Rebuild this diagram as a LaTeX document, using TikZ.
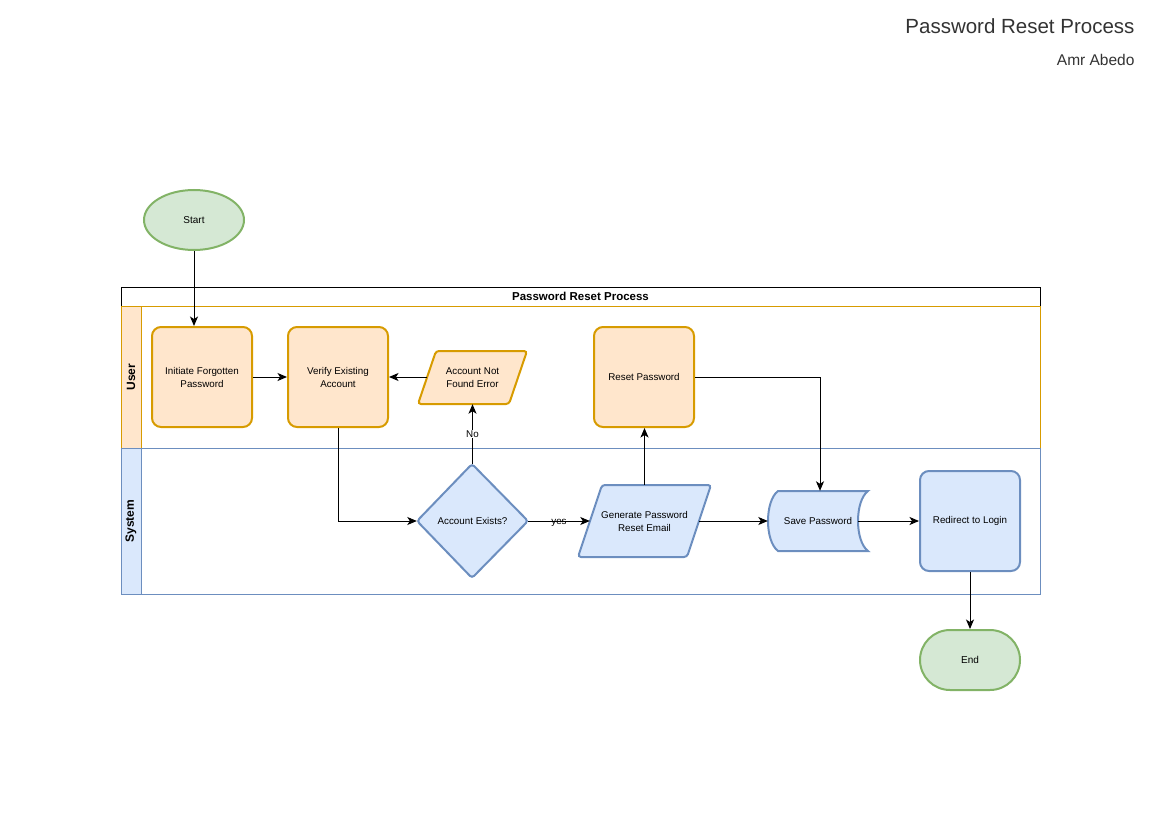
\documentclass[tikz,border=0pt]{standalone}
\usepackage{fontspec}
\setmainfont{Liberation Sans}
\usetikzlibrary{arrows.meta,shapes.geometric}
\definecolor{userfill}{HTML}{FFE6CC}
\definecolor{userline}{HTML}{D79B00}
\definecolor{sysfill}{HTML}{DAE8FC}
\definecolor{sysline}{HTML}{6C8EBF}
\definecolor{termfill}{HTML}{D5E8D4}
\definecolor{termline}{HTML}{82B366}
\definecolor{ink}{HTML}{333333}
\tikzset{
  userbox/.style={draw=userline, fill=userfill, line width=2pt, rounded corners=9pt,
    minimum width=100pt, minimum height=100pt, align=center, font=\fontsize{9.8}{13}\selectfont, inner sep=0pt},
  sysbox/.style={draw=sysline, fill=sysfill, line width=2pt, rounded corners=9pt,
    minimum width=100pt, minimum height=100pt, align=center, font=\fontsize{9.8}{13}\selectfont, inner sep=0pt},
  usershape/.style={draw=userline, fill=userfill, line width=2pt, rounded corners=3pt},
  sysshape/.style={draw=sysline, fill=sysfill, line width=2pt, rounded corners=3pt},
  ghost/.style={inner sep=0pt, align=center, font=\fontsize{9.8}{13}\selectfont},
  lanelabel/.style={rotate=90, font=\bfseries\fontsize{12}{14}\selectfont},
  flow/.style={-{Stealth[length=9.5pt,width=8pt,inset=2.5pt]}, line width=1pt},
  edgelabel/.style={inner sep=1pt, font=\fontsize{9.8}{11}\selectfont}
}
\begin{document}
\begin{tikzpicture}[x=1pt, y=-1pt]
\useasboundingbox (0,0) rectangle (1150,813);

% heading
\node[anchor=east, text=ink, font=\fontsize{20.5}{24}\selectfont] (title) at (1138,26) {Password Reset Process};
\node[anchor=east, text=ink, font=\fontsize{15.5}{18}\selectfont] (author) at (1138,60) {Amr Abedo};

% pool and swimlanes
\draw[fill=white, line width=1pt] (121,287) rectangle (1040,306);
\node[font=\bfseries\fontsize{11.5}{14}\selectfont] (pool) at (580.5,296) {Password Reset Process};
\draw[userline, line width=1pt] (121,306) rectangle (1040,448);
\draw[userline, fill=userfill, line width=1pt] (121,306) rectangle (141,448);
\node[lanelabel] (userlane) at (131,377) {User};
\draw[sysline, line width=1pt] (121,448) rectangle (1040,594);
\draw[sysline, fill=sysfill, line width=1pt] (121,448) rectangle (141,594);
\node[lanelabel] (syslane) at (131,521) {System};

% terminators
\node[draw=termline, fill=termfill, line width=2pt, ellipse, minimum width=100pt, minimum height=60pt,
  inner sep=0pt, font=\fontsize{10}{12}\selectfont] (start) at (194,220) {Start};
\node[draw=termline, fill=termfill, line width=2pt, rounded corners=30pt, minimum width=100pt, minimum height=60pt,
  inner sep=0pt, font=\fontsize{10}{12}\selectfont] (end) at (970,660) {End};

% user lane steps
\node[userbox] (init) at (202,377) {Initiate Forgotten\\Password};
\node[userbox] (verify) at (338,377) {Verify Existing\\Account};
\node[userbox] (reset) at (644,377) {Reset Password};
\draw[usershape] (436,351) -- (527,351) -- (509,404) -- (418,404) -- cycle;
\node[ghost, minimum width=91pt, minimum height=53pt] (notfound) at (472.5,377.5) {Account Not\\Found Error};

% system lane steps
\draw[sysshape] (472,464) -- (528,521) -- (472,578) -- (417,521) -- cycle;
\node[ghost, minimum width=111pt, minimum height=114pt] (exists) at (472.5,521) {Account Exists?};
\draw[sysshape] (602,485) -- (711,485) -- (687,557) -- (578,557) -- cycle;
\node[ghost, minimum width=109pt, minimum height=72pt] (email) at (644.5,521) {Generate Password\\Reset Email};
\draw[sysline, fill=sysfill, line width=2pt]
  (778,491) -- (868,491)
  .. controls (854.67,501) and (854.67,541) .. (868,551)
  -- (778,551)
  .. controls (764.67,541) and (764.67,501) .. (778,491) -- cycle;
\node[ghost, minimum width=100pt, minimum height=60pt] (save) at (818,521) {Save Password};
\node[sysbox] (login) at (970,521) {Redirect to Login};

% connectors
\draw[flow] (start.south) -- (start.south |- init.north);
\draw[flow] (init.east) -- (verify.west);
\draw[flow] (notfound.west |- verify.east) -- (verify.east);
\draw[flow] (verify.south) |- (exists.west);
\draw[flow] (exists.north) -- node[edgelabel, fill=white, pos=0.5] {No} (notfound.south);
\draw[flow] (exists.east) -- node[edgelabel, pos=0.5, yshift=-1.5pt] {yes} (email.west);
\draw[flow] (email.north) -- (email.north |- reset.south);
\draw[flow] (reset.east) -| ([xshift=2pt]save.north);
\draw[flow] (email.east) -- (save.west);
\draw[flow] ([xshift=-10pt]save.east) -- (login.west);
\draw[flow] (login.south) -- (end.north);
\end{tikzpicture}
\end{document}
